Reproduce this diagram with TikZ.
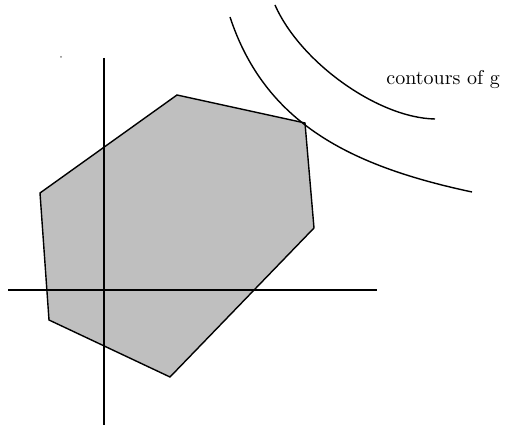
\documentclass[tikz,border=0pt]{standalone}
\usepackage{tikz}
\usetikzlibrary{calc}

\definecolor{feasgray}{gray}{0.75}

\begin{document}
\begin{tikzpicture}[
  x=0.5pt, y=-0.5pt,
  feasible/.style={draw, fill=feasgray, line width=0.7pt, line join=miter},
  axis/.style={line width=0.7pt},
  contour/.style={line width=0.7pt},
  lbl/.style={font=\fontsize{10}{12}\selectfont, inner sep=0pt}
]
\useasboundingbox (0,0) rectangle (515,437);

% vertices of the feasible set
\coordinate (v1) at (177,95);
\coordinate (v2) at (305,123);
\coordinate (v3) at (314,228);
\coordinate (v4) at (170,377);
\coordinate (v5) at (49,320);
\coordinate (v6) at (40,193);

\draw[feasible] (v1) -- (v2) -- (v3) -- (v4) -- (v5) -- (v6) -- cycle;

% axes
\coordinate (ytop) at (104,58);
\coordinate (ybot) at (104,425);
\coordinate (xleft) at (8,290);
\coordinate (xright) at (377,290);
\draw[axis] (ytop) -- (ybot);
\draw[axis] (xleft) -- (xright);

% contours
\coordinate (c1a) at (230,17);
\coordinate (c1b) at (472,192);
\coordinate (c2a) at (275,5);
\coordinate (c2b) at (435,119);
\draw[contour] (c1a) .. controls (265,123) and (350,166) .. (c1b);
\draw[contour] (c2a) .. controls (300,62) and (378,118) .. (c2b);

\node[lbl, anchor=base west] (glabel) at (386,85) {contours of g};

\fill[gray] (61,57) circle (1);
\end{tikzpicture}
\end{document}
